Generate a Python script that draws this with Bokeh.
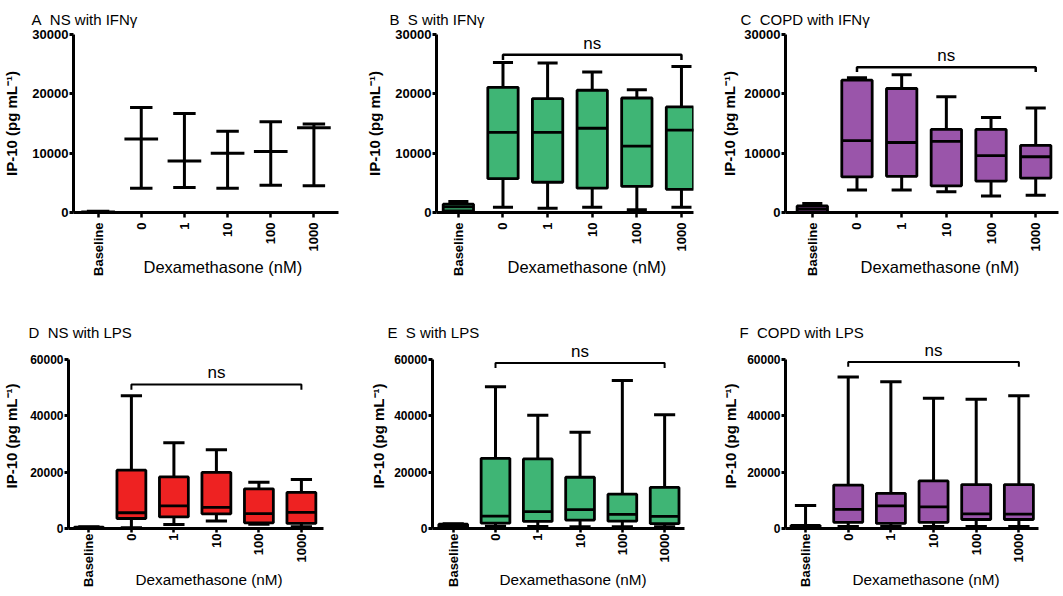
import math
from bokeh.plotting import figure
from bokeh.models import Range1d, FixedTicker, Label, Title
from bokeh.layouts import column, row
from bokeh.embed import file_html
from bokeh.resources import INLINE
from bokeh.core.properties import value

categories = ["Baseline", "0", "1", "10", "100", "1000"]

# A: NS with IFNγ (min / median / max)
a_min = [0, 4100, 4200, 4100, 4600, 4500]
a_med = [100, 12400, 8700, 10000, 10300, 14300]
a_max = [200, 17700, 16700, 13700, 15300, 14900]

# B: S with IFNγ
b_min = [250, 900, 700, 900, 450, 900]
b_q1 = [270, 5700, 5100, 4100, 4400, 3900]
b_med = [950, 13500, 13500, 14200, 11200, 13900]
b_q3 = [1400, 21100, 19200, 20600, 19300, 17800]
b_max = [1850, 25300, 25200, 23700, 20700, 24600]

# C: COPD with IFNγ
c_min = [0, 3800, 3800, 3500, 2800, 2900]
c_q1 = [100, 6000, 6100, 4500, 5300, 5800]
c_med = [600, 12100, 11800, 12000, 9600, 9400]
c_q3 = [1100, 22300, 20900, 14000, 14000, 11300]
c_max = [1500, 22700, 23200, 19500, 16000, 17600]

# D: NS with LPS
d_min = [0, 300, 1400, 2700, 1500, 600]
d_q1 = [100, 3550, 4100, 5200, 2000, 1800]
d_med = [300, 5600, 8000, 7500, 5300, 5700]
d_q3 = [500, 20700, 18300, 19900, 14100, 12800]
d_max = [600, 47100, 30400, 28000, 16400, 17400]

# E: S with LPS
e_min = [200, 800, 700, 600, 600, 600]
e_q1 = [300, 1900, 2500, 3000, 2600, 1700]
e_med = [900, 4400, 6000, 6700, 5000, 4300]
e_q3 = [1500, 24900, 24700, 18200, 12200, 14600]
e_max = [1700, 50300, 40200, 34200, 52500, 40400]

# F: COPD with LPS
f_min = [0, 700, 700, 700, 700, 700]
f_q1 = [200, 2200, 1800, 2200, 3200, 3200]
f_med = [700, 6800, 8000, 7700, 5200, 5100]
f_q3 = [1100, 15400, 12500, 16900, 15600, 15600]
f_max = [8200, 53800, 52100, 46200, 45900, 47100]

titles = ["A\u00a0 NS with IFNγ", "B\u00a0 S with IFNγ", "C\u00a0 COPD with IFNγ",
          "D\u00a0 NS with LPS", "E\u00a0 S with LPS", "F\u00a0 COPD with LPS"]
y_label = "IP-10 (pg mL⁻¹)"
x_label = "Dexamethasone (nM)"

FONT = "Liberation Sans"
GREEN = "#3FB575"
RED = "#EE2222"
PURPLE = "#9A55AA"


def panel(title, stats, color, geom, ymax, yticks, title_off, title_standoff,
          ylab_standoff, xlab_off, xlab_standoff, bracket=None, ns_y=None,
          ns_clip=False, boxes=True, row2=False):
    (fw, fh, mbl, mbr, mbt, mbb, x0, x1, y1) = geom
    p = figure(width=fw, height=fh, output_backend="svg", toolbar_location=None,
               x_range=Range1d(x0, x1), y_range=Range1d(0, y1),
               min_border_left=mbl, min_border_right=mbr,
               min_border_top=mbt, min_border_bottom=mbb)
    p.outline_line_color = None
    p.xgrid.visible = False
    p.ygrid.visible = False

    p.title.text = title
    p.title.align = "left"
    p.title.offset = title_off
    p.title.standoff = title_standoff
    p.title.text_font = FONT
    p.title.text_font_size = "15px"
    p.title.text_font_style = "normal"
    p.title.text_color = "black"

    xs = list(range(len(categories)))
    if boxes:
        mn, q1, md, q3, mx = stats
        bw, cw = 0.68, (0.5 if row2 else 0.45)
        p.segment(x0=xs, y0=q3, x1=xs, y1=mx, line_color="black", line_width=3)
        p.segment(x0=xs, y0=q1, x1=xs, y1=mn, line_color="black", line_width=3)
        p.segment(x0=[x - cw / 2 for x in xs], y0=mx, x1=[x + cw / 2 for x in xs], y1=mx,
                  line_color="black", line_width=3)
        p.segment(x0=[x - cw / 2 for x in xs], y0=mn, x1=[x + cw / 2 for x in xs], y1=mn,
                  line_color="black", line_width=3)
        p.vbar(x=xs, width=bw, bottom=q1, top=q3, fill_color=color,
               line_color="black", line_width=2.8)
        p.segment(x0=[x - bw / 2 for x in xs], y0=md, x1=[x + bw / 2 for x in xs], y1=md,
                  line_color="black", line_width=2.8)
    else:
        mn, md, mx = stats
        cw, mw = 0.52, 0.78
        p.segment(x0=xs, y0=mn, x1=xs, y1=mx, line_color="black", line_width=3)
        p.segment(x0=[x - cw / 2 for x in xs], y0=mx, x1=[x + cw / 2 for x in xs], y1=mx,
                  line_color="black", line_width=3)
        p.segment(x0=[x - cw / 2 for x in xs], y0=mn, x1=[x + cw / 2 for x in xs], y1=mn,
                  line_color="black", line_width=3)
        p.segment(x0=[x - mw / 2 for x in xs], y0=md, x1=[x + mw / 2 for x in xs], y1=md,
                  line_color="black", line_width=3)

    if bracket is not None:
        top, tick = bracket
        p.line(x=[xs[1], xs[1], xs[-1], xs[-1]], y=[tick, top, top, tick],
               line_color="black", line_width=2 if row2 else 2.5)
    if ns_y is not None:
        xc = (xs[1] + xs[-1]) / 2
        if ns_clip:
            p.text(x=[xc], y=[ns_y], text=["ns"], text_align="center",
                   text_baseline="alphabetic", text_font=value(FONT),
                   text_font_size="17px", text_color="black")
        else:
            p.add_layout(Label(x=xc, y=ns_y, text="ns", text_align="center",
                               text_baseline="alphabetic", text_font=FONT,
                               text_font_size="17px", text_color="black"))

    # y axis
    ya = p.yaxis[0]
    ya.ticker = FixedTicker(ticks=yticks, minor_ticks=[])
    ya.bounds = (0, ymax)
    ya.axis_line_width = 3
    ya.major_tick_line_width = 3
    ya.major_tick_out = 4
    ya.major_tick_in = 0
    ya.major_label_standoff = 1
    ya.major_label_text_font = FONT
    ya.major_label_text_font_style = "bold"
    ya.major_label_text_font_size = "12px" if row2 else "13px"
    ya.major_label_text_color = "black"
    ya.axis_label = y_label
    ya.axis_label_standoff = ylab_standoff
    ya.axis_label_text_font = FONT
    ya.axis_label_text_font_style = "bold"
    ya.axis_label_text_font_size = "15px"
    ya.axis_label_text_color = "black"

    # x axis
    xa = p.xaxis[0]
    xa.ticker = FixedTicker(ticks=xs, minor_ticks=[])
    xa.major_label_overrides = {i: c for i, c in enumerate(categories)}
    xa.major_label_orientation = math.pi / 2
    xa.axis_line_width = 3
    xa.major_tick_line_width = 2.5
    xa.major_tick_out = 4 if row2 else 5
    xa.major_tick_in = 0
    xa.major_label_standoff = 1 if row2 else 5
    xa.major_label_text_font = FONT
    xa.major_label_text_font_style = "bold"
    xa.major_label_text_font_size = "13px"
    xa.major_label_text_color = "black"

    p.add_layout(Title(text=x_label, align="left", offset=xlab_off,
                       vertical_align="top", standoff=xlab_standoff, text_font=FONT,
                       text_font_size="15.3px" if row2 else "16.5px",
                       text_font_style="normal", text_color="black"), "below")
    return p


Y1 = 30000
Y2 = 60000
T1 = [0, 10000, 20000, 30000]
T2 = [0, 20000, 40000, 60000]
yend2 = 65680

pa = panel(titles[0], (a_min, a_med, a_max), None,
           (360, 300, 70, 22, 34, 88, -0.57, 5.57, Y1), Y1, T1,
           -42, 13, 9, 70, -42, boxes=False)
pb = panel(titles[1], (b_min, b_q1, b_med, b_q3, b_max), GREEN,
           (350, 300, 76, 17, 34, 88, -0.49, 5.27, Y1), Y1, T1,
           -47, 14, 9, 71, -42, bracket=(26600, 25700), ns_y=28500)
pc = panel(titles[2], (c_min, c_q1, c_med, c_q3, c_max), PURPLE,
           (353, 300, 75, 5, 34, 88, -0.6, 5.51, Y1), Y1, T1,
           -45, 14, 3, 75, -42, bracket=(24500, 23700), ns_y=26500)
pd_ = panel(titles[3], (d_min, d_q1, d_med, d_q3, d_max), RED,
            (360, 296, 68, 37, 43, 68, -0.48, 5.52, yend2), Y2, T2,
            -40, 5, 7, 67, -38, bracket=(51100, 49300), ns_y=55500, row2=True)
pe = panel(titles[4], (e_min, e_q1, e_med, e_q3, e_max), GREEN,
           (350, 296, 72, 26, 43, 68, -0.49, 5.47, yend2), Y2, T2,
           -45, 6, 4, 67, -38, bracket=(58800, 57000), ns_y=63000, ns_clip=True, row2=True)
pf = panel(titles[5], (f_min, f_q1, f_med, f_q3, f_max), PURPLE,
           (353, 296, 75, 25, 43, 68, -0.47, 5.46, yend2), Y2, T2,
           -46, 5, 5, 67, -38, bracket=(59100, 57400), ns_y=63300, row2=True)

layout = column(row(pa, pb, pc), row(pd_, pe, pf))
open("out.html", "w").write(file_html(layout, INLINE))
